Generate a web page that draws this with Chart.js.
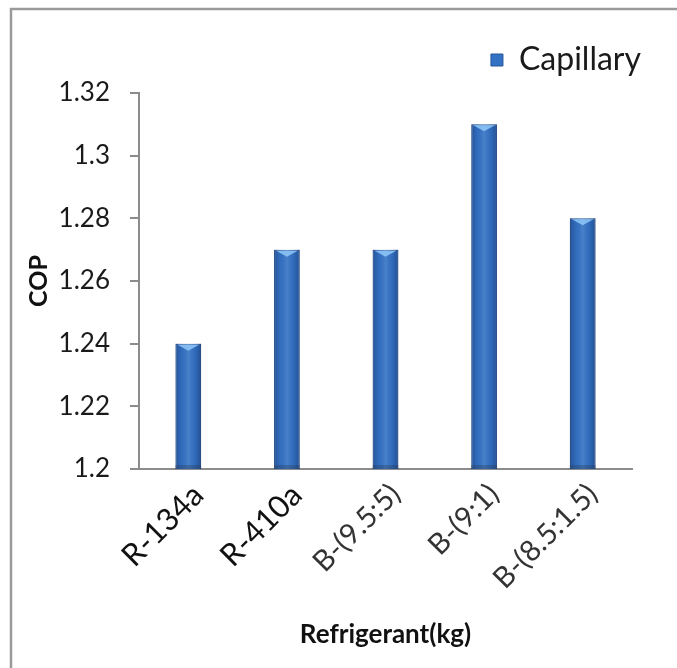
<!DOCTYPE html>
<html>
<head>
<meta charset="utf-8">
<script src="https://cdn.jsdelivr.net/npm/chart.js@4"></script>
<style>
  html, body { margin: 0; padding: 0; background: #fff; }
  #wrap { position: relative; width: 677px; height: 668px; }
</style>
</head>
<body>
<div id="wrap"><canvas id="c" width="677" height="668"></canvas></div>
<script>
// COP of each refrigerant charge with a capillary tube
const categories = ['R-134a', 'R-410a', 'B-(9.5:5)', 'B-(9:1)', 'B-(8.5:1.5)'];
const capillary = [1.24, 1.27, 1.27, 1.31, 1.28];
const yTicks = [1.2, 1.22, 1.24, 1.26, 1.28, 1.3, 1.32];

const barBlue = '#3472c4';

// Frame around the plot, open on the right and bottom
const framePlugin = {
  id: 'frame',
  beforeDraw(chart) {
    const ctx = chart.ctx;
    ctx.save();
    ctx.strokeStyle = '#9a9a9a';
    ctx.lineWidth = 2.5;
    ctx.beginPath();
    ctx.moveTo(11, 668);
    ctx.lineTo(11, 9);
    ctx.lineTo(677, 9);
    ctx.stroke();
    ctx.restore();
  }
};

// Cylinder-like shading and a light bevel on top of each bar
const shadePlugin = {
  id: 'shade',
  afterDatasetsDraw(chart) {
    const ctx = chart.ctx;
    const base = chart.scales.y.bottom;
    chart.getSortedVisibleDatasetMetas().forEach(meta => {
      meta.data.forEach(bar => {
        const x = bar.x, y = bar.y, width = bar.width;
        const l = x - width / 2, r = x + width / 2;
        const g = ctx.createLinearGradient(l, 0, r, 0);
        g.addColorStop(0, 'rgba(10,30,80,0.35)');
        g.addColorStop(0.25, 'rgba(10,30,80,0.05)');
        g.addColorStop(0.5, 'rgba(255,255,255,0.10)');
        g.addColorStop(0.75, 'rgba(10,30,80,0.08)');
        g.addColorStop(1, 'rgba(10,30,80,0.40)');
        ctx.save();
        ctx.fillStyle = g;
        ctx.fillRect(l, y, width, base - y);
        // top bevel
        ctx.fillStyle = 'rgba(140,195,245,0.9)';
        ctx.beginPath();
        ctx.moveTo(l + 2, y + 1);
        ctx.lineTo(r - 2, y + 1);
        ctx.lineTo(x, y + 7);
        ctx.closePath();
        ctx.fill();
        // darker foot
        ctx.fillStyle = 'rgba(40,60,90,0.35)';
        ctx.fillRect(l, base - 4, width, 4);
        ctx.restore();
      });
    });
  }
};

new Chart(document.getElementById('c'), {
  type: 'bar',
  data: {
    labels: categories,
    datasets: [{
      label: 'Capillary',
      data: capillary,
      backgroundColor: barBlue,
      borderColor: '#24569a',
      borderWidth: 1,
      barPercentage: 0.26,
      categoryPercentage: 1.0
    }]
  },
  options: {
    responsive: false,
    animation: false,
    layout: { padding: { left: 20, right: 18, top: 26, bottom: 0 } },
    plugins: {
      tooltip: { enabled: false },
      legend: {
        position: 'top',
        align: 'end',
        labels: {
          font: { family: 'Lato', size: 32 },
          color: '#1a1a1a',
          boxWidth: 12,
          boxHeight: 12,
          padding: 18
        }
      }
    },
    scales: {
      x: {
        afterFit(scale) { scale.height = 199; },
        grid: { display: false },
        border: { display: true, color: '#8c8c8c', width: 2 },
        ticks: {
          maxRotation: 45,
          minRotation: 45,
          padding: 0,
          labelOffset: 10,
          color: (c) => c.index < 2 ? '#111' : '#333',
          font: (c) => ({ family: 'Lato', size: c.index < 2 ? 31 : 29 })
        },
        title: {
          display: true,
          text: 'Refrigerant(kg)',
          color: '#111',
          font: { family: 'Lato', size: 26, weight: 'bold' },
          padding: { top: 4, bottom: 18 }
        }
      },
      y: {
        min: 1.2,
        max: 1.32,
        afterFit(scale) { scale.width = 119; },
        afterBuildTicks(scale) {
          scale.ticks = yTicks.map(v => ({ value: v }));
        },
        grid: {
          display: true,
          drawOnChartArea: false,
          drawTicks: true,
          tickLength: 9,
          color: '#8c8c8c',
          lineWidth: 2
        },
        border: { display: true, color: '#8c8c8c', width: 2 },
        ticks: {
          padding: 20,
          color: '#1a1a1a',
          font: { family: 'Lato', size: 26 },
          callback: (v) => String(+Number(v).toFixed(2))
        },
        title: {
          display: true,
          text: 'COP',
          color: '#111',
          font: { family: 'Lato', size: 25, weight: 'bold' },
          padding: { bottom: 4 }
        }
      },
      // empty gutters: right of the plot, and between legend and plot
      gutter: {
        position: 'right',
        display: true,
        afterFit(scale) { scale.width = 27; },
        grid: { display: false },
        border: { display: false },
        ticks: { display: false }
      },
      gutterTop: {
        type: 'category',
        position: 'top',
        display: true,
        afterFit(scale) { scale.height = 7; },
        grid: { display: false },
        border: { display: false },
        ticks: { display: false }
      }
    }
  },
  plugins: [framePlugin, shadePlugin]
});
</script>
</body>
</html>
